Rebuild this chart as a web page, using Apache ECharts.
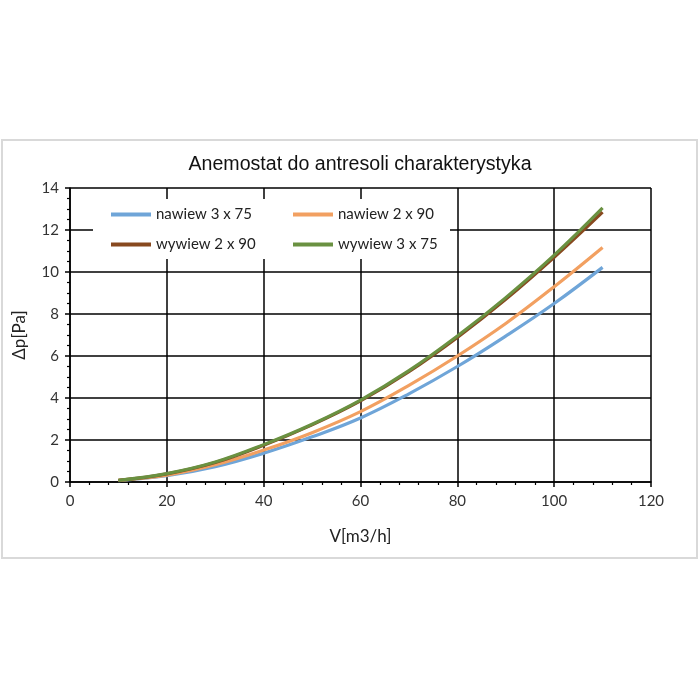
<!DOCTYPE html>
<html>
<head>
<meta charset="utf-8">
<script src="https://cdn.jsdelivr.net/npm/echarts@6/dist/echarts.min.js"></script>
<style>
html,body{margin:0;padding:0;background:#fff;}
#c{width:700px;height:700px;}
</style>
</head>
<body>
<div id="c"></div>
<script>
const flow = [10, 20, 30, 40, 50, 60, 70, 80, 90, 100, 110];
const nawiew3x75 = [0.07, 0.30, 0.73, 1.37, 2.15, 3.05, 4.20, 5.50, 6.95, 8.50, 10.22];
const nawiew2x90 = [0.08, 0.33, 0.82, 1.52, 2.35, 3.35, 4.60, 6.00, 7.55, 9.30, 11.17];
const wywiew2x90 = [0.08, 0.39, 0.93, 1.75, 2.72, 3.86, 5.25, 6.88, 8.70, 10.70, 12.85];
const wywiew3x75 = [0.08, 0.40, 0.95, 1.78, 2.75, 3.90, 5.30, 6.95, 8.78, 10.80, 13.05];
const seriesNames = ['nawiew 3 x 75', 'nawiew 2 x 90', 'wywiew 2 x 90', 'wywiew 3 x 75'];
const seriesColors = ['#6FA5D8', '#F2A061', '#88491F', '#6A9141'];
const seriesValues = [nawiew3x75, nawiew2x90, wywiew2x90, wywiew3x75];

const chart = echarts.init(document.getElementById('c'));
const labelFont = 'Lato, "Open Sans", sans-serif';
// legend layout: 2 columns x 2 rows
const legendLeft = [111, 293, 111, 293];
const legendTop = [207, 207, 237, 237];
const legends = seriesNames.map((n, i) => ({
  data: [n], left: legendLeft[i], top: legendTop[i], padding: 0,
  icon: 'rect', itemWidth: 40, itemHeight: 4,
  zlevel: 1, z: 10,
  textStyle: {fontFamily: labelFont, fontSize: 15, color: '#222'}
}));
chart.setOption({
  animation: false,
  backgroundColor: '#fff',
  title: {
    text: 'Anemostat do antresoli charakterystyka',
    left: 355, textAlign: 'center', top: 150,
    textStyle: {fontFamily: '"Liberation Sans", Arial, sans-serif', fontSize: 19.6, fontWeight: 'normal', color: '#111'}
  },
  graphic: [
    {type: 'rect', shape: {x: 2, y: 140, width: 695, height: 418}, style: {fill: 'none', stroke: '#d9d9d9', lineWidth: 2}, z: 0},
    {type: 'rect', shape: {x: 93, y: 199, width: 357, height: 60}, style: {fill: '#fff'}, zlevel: 1, z: 1}
  ],
  legend: legends,
  grid: {left: 70, right: 49, top: 188, bottom: 218},
  xAxis: {
    type: 'value', min: 0, max: 120, interval: 20,
    name: 'V[m3/h]', nameLocation: 'middle', nameGap: 46,
    nameTextStyle: {fontFamily: labelFont, fontSize: 17, color: '#222'},
    axisLine: {show: true, lineStyle: {color: '#000', width: 1.5}},
    axisTick: {show: true, length: 5, lineStyle: {color: '#000', width: 1.5}},
    minorTick: {show: true, splitNumber: 5, length: 3, lineStyle: {color: '#000', width: 1.2}},
    splitLine: {show: true, lineStyle: {color: '#000', width: 1.5}},
    axisLabel: {margin: 12, fontFamily: labelFont, fontSize: 15, color: '#333'}
  },
  yAxis: {
    type: 'value', min: 0, max: 14, interval: 2,
    name: 'Δp[Pa]', nameLocation: 'middle', nameGap: 42,
    nameTextStyle: {fontFamily: labelFont, fontSize: 17, color: '#222'},
    axisLine: {show: true, lineStyle: {color: '#000', width: 1.5}},
    axisTick: {show: true, length: 5, lineStyle: {color: '#000', width: 1.5}},
    minorTick: {show: true, splitNumber: 4, length: 3, lineStyle: {color: '#000', width: 1.2}},
    splitLine: {show: true, lineStyle: {color: '#000', width: 1.5}},
    axisLabel: {margin: 11, fontFamily: labelFont, fontSize: 15, color: '#333'}
  },
  series: seriesNames.map((n, i) => ({
    name: n, type: 'line', smooth: 0.4, showSymbol: false, symbol: 'none',
    color: seriesColors[i],
    lineStyle: {width: 3.2, color: seriesColors[i]},
    z: 2 + i,
    data: flow.map((v, j) => [v, seriesValues[i][j]])
  }))
});
</script>
</body>
</html>
